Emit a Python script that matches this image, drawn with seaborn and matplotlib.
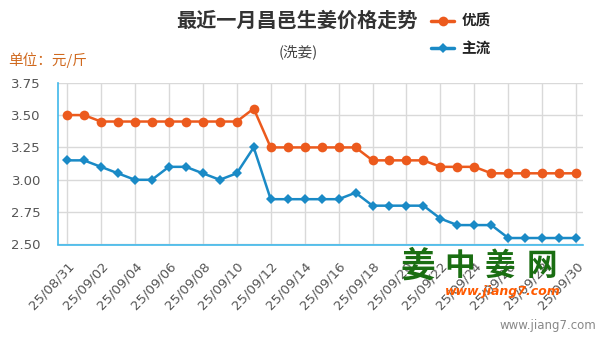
import matplotlib
matplotlib.use("Agg")
import matplotlib.pyplot as plt
import seaborn as sns
import pandas as pd
from matplotlib.lines import Line2D

dates = ["25/08/31", "25/09/01", "25/09/02", "25/09/03", "25/09/04", "25/09/05", "25/09/06",
         "25/09/07", "25/09/08", "25/09/09", "25/09/10", "25/09/11", "25/09/12", "25/09/13",
         "25/09/14", "25/09/15", "25/09/16", "25/09/17", "25/09/18", "25/09/19", "25/09/20",
         "25/09/21", "25/09/22", "25/09/23", "25/09/24", "25/09/25", "25/09/26", "25/09/27",
         "25/09/28", "25/09/29", "25/09/30"]
premium = [3.50, 3.50, 3.45, 3.45, 3.45, 3.45, 3.45, 3.45, 3.45, 3.45, 3.45, 3.55, 3.25, 3.25,
           3.25, 3.25, 3.25, 3.25, 3.15, 3.15, 3.15, 3.15, 3.10, 3.10, 3.10, 3.05, 3.05, 3.05,
           3.05, 3.05, 3.05]
mainstream = [3.15, 3.15, 3.10, 3.05, 3.00, 3.00, 3.10, 3.10, 3.05, 3.00, 3.05, 3.25, 2.85, 2.85,
              2.85, 2.85, 2.85, 2.90, 2.80, 2.80, 2.80, 2.80, 2.70, 2.65, 2.65, 2.65, 2.55, 2.55,
              2.55, 2.55, 2.55]
series_names = ["优质", "主流"]
yticks = [2.50, 2.75, 3.00, 3.25, 3.50, 3.75]

ORANGE = "#ec5a1d"
BLUE = "#1a8ac6"
AXIS = "#3fb8ea"

sns.set_style("white")
plt.rcParams["font.family"] = ["Noto Sans CJK SC", "DejaVu Sans"]

df = pd.DataFrame({"idx": range(len(dates)), "date": dates,
                   series_names[0]: premium, series_names[1]: mainstream})

fig = plt.figure(figsize=(6.01, 3.40), dpi=100)
ax = fig.add_axes([58 / 601, 1 - 244.5 / 340, (583 - 58) / 601, (244.5 - 82.7) / 340])

sns.lineplot(data=df, x="idx", y=series_names[0], ax=ax, color=ORANGE, marker="o",
             markersize=7, linewidth=1.8, markeredgewidth=0, zorder=4)
sns.lineplot(data=df, x="idx", y=series_names[1], ax=ax, color=BLUE, marker="D",
             markersize=5.5, linewidth=1.8, markeredgewidth=0, zorder=4)

ax.set_xlim(-0.53, 30.4)
ax.set_ylim(2.5, 3.75)
ax.set_yticks(yticks)
ax.set_yticklabels([f"{v:.2f}" for v in yticks], fontsize=9.5, color="#555555",
                   family="DejaVu Sans")
xt = list(range(0, len(dates), 2))
ax.set_xticks(xt)
ax.set_xticklabels([dates[i] for i in xt], rotation=47, ha="right", rotation_mode="anchor",
                   fontsize=9.5, color="#555555", family="DejaVu Sans")
ax.set_xlabel("")
ax.set_ylabel("")

ax.grid(True, color="#d9d9d9", linewidth=1)
ax.set_axisbelow(True)
for s in ["top", "right"]:
    ax.spines[s].set_visible(False)
for s in ["left", "bottom"]:
    ax.spines[s].set_color(AXIS)
    ax.spines[s].set_linewidth(1.2)
ax.tick_params(axis="x", length=8, color=AXIS, width=1, pad=3)
ax.tick_params(axis="y", length=3.8, color=AXIS, width=1, pad=8.5)

fig.text(297 / 601, 1 - 20 / 340, "最近一月昌邑生姜价格走势", ha="center", va="center",
         fontsize=14.5, fontweight="bold", color="#333333")
fig.text(298 / 601, 1 - 52 / 340, "(洗姜)", ha="center", va="center",
         fontsize=10.5, color="#444444")
fig.text(8 / 601, 1 - 60 / 340, "单位：元/斤", ha="left", va="center",
         fontsize=10.5, color="#d0691e")

handles = [Line2D([], [], color=ORANGE, marker="o", markersize=7, linewidth=2.5,
                  markeredgewidth=0),
           Line2D([], [], color=BLUE, marker="D", markersize=5.5, linewidth=2.5,
                  markeredgewidth=0)]
fig.legend(handles, series_names, loc="upper left", bbox_to_anchor=(425 / 601, 1 - 7 / 340),
           frameon=False, handlelength=1.6, handletextpad=0.5, labelspacing=0.75,
           borderaxespad=0, prop={"size": 10.5, "weight": "bold"}, labelcolor="#222222")

# watermark
wm = "姜中姜网"
wm_x = [418, 460, 500, 542]
wm_size = [25, 22, 22, 22]
for ch, x, fs in zip(wm, wm_x, wm_size):
    fig.text(x / 601, 1 - 266 / 340, ch, ha="center", va="center",
             fontsize=fs, fontweight="bold", color="#1a6e12", zorder=10)
fig.text(503 / 601, 1 - 292 / 340, "www.jiang7.com", ha="center", va="center",
         fontsize=9, fontweight="bold", style="italic", color="#ff5a00", zorder=10,
         family="DejaVu Sans")
fig.text(596 / 601, 1 - 326 / 340, "www.jiang7.com", ha="right", va="center",
         fontsize=8.5, color="#888888", family="DejaVu Sans")

fig.savefig("out.png", dpi=100)
